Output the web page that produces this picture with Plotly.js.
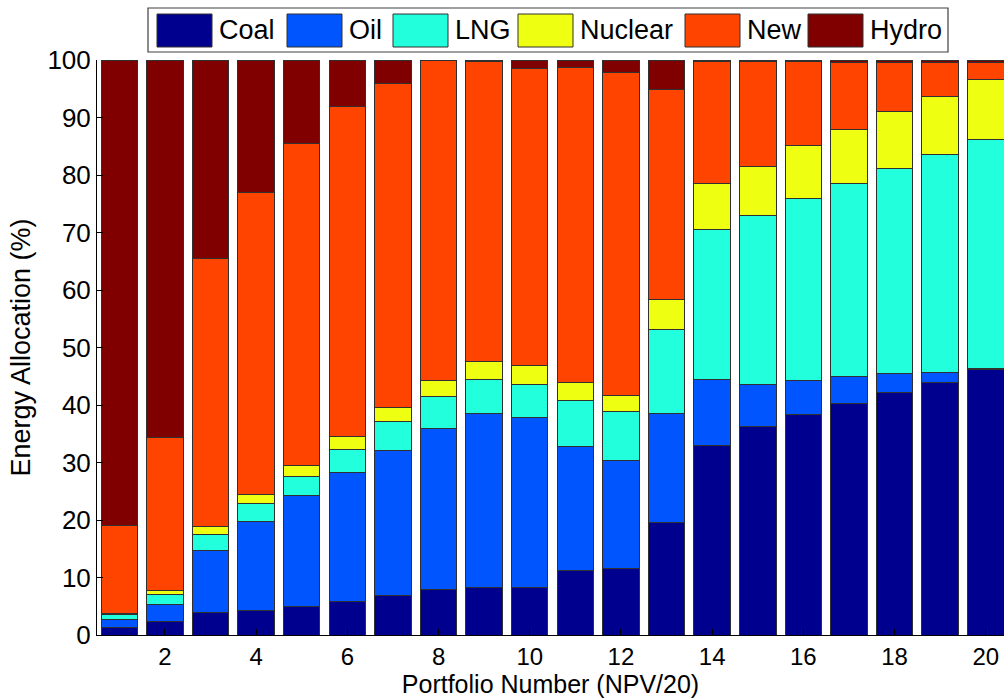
<!DOCTYPE html>
<html>
<head>
<meta charset="utf-8">
<script src="https://cdn.plot.ly/plotly-3.0.1.min.js"></script>
<style>
  html, body { margin: 0; padding: 0; background: #fff; overflow: hidden; }
  #chart { width: 1004px; height: 700px; }
</style>
</head>
<body>
<div id="chart"></div>
<script>
// Energy allocation (%) per portfolio, stacked by source
const portfolios = [1, 2, 3, 4, 5, 6, 7, 8, 9, 10, 11, 12, 13, 14, 15, 16, 17, 18, 19, 20];
const coal    = [1.3, 2.4, 4.0, 4.3, 4.9, 5.8, 6.9, 7.9, 8.2, 8.2, 11.3, 11.6, 19.5, 33.0, 36.2, 38.3, 40.3, 42.2, 43.9, 46.2];
const oil     = [1.4, 2.9, 10.7, 15.5, 19.3, 22.5, 25.2, 28.0, 30.4, 29.6, 21.4, 18.8, 19.1, 11.5, 7.4, 6.0, 4.6, 3.2, 1.8, 0.2];
const lng     = [0.9, 1.8, 2.8, 3.1, 3.4, 4.0, 5.0, 5.5, 5.8, 5.7, 8.1, 8.4, 14.5, 26.0, 29.4, 31.7, 33.6, 35.7, 37.9, 39.7];
const nuclear = [0.2, 0.7, 1.3, 1.5, 1.9, 2.2, 2.5, 2.9, 3.1, 3.3, 3.2, 2.9, 5.3, 8.0, 8.5, 9.2, 9.5, 10.0, 10.1, 10.5];
const newSrc  = [15.3, 26.6, 46.6, 52.6, 55.9, 57.4, 56.3, 55.6, 52.2, 51.7, 54.7, 56.2, 36.5, 21.2, 18.2, 14.5, 11.5, 8.4, 5.9, 3.0];
const hydro   = [80.9, 65.6, 34.6, 23.0, 14.6, 8.1, 4.1, 0.1, 0.3, 1.5, 1.3, 2.1, 5.1, 0.3, 0.3, 0.3, 0.5, 0.5, 0.4, 0.4];

const seriesNames  = ['Coal', 'Oil', 'LNG', 'Nuclear', 'New', 'Hydro'];
const seriesValues = [coal, oil, lng, nuclear, newSrc, hydro];
const seriesColors = ['#00008f', '#0055ff', '#22ffdd', '#eeff11', '#ff4400', '#800000'];

const xTickVals = [2, 4, 6, 8, 10, 12, 14, 16, 18, 20];
const yTickVals = [0, 10, 20, 30, 40, 50, 60, 70, 80, 90, 100];

const FONT = 'Liberation Sans, Arial, Helvetica, sans-serif';

// Figure geometry (pixels)
const FIG_W = 1004, FIG_H = 700;
const M = { l: 97, r: 0, t: 60, b: 65 };
const PLOT_W = FIG_W - M.l - M.r;
const PLOT_H = FIG_H - M.t - M.b;
const px2paperX = px => (px - M.l) / PLOT_W;
const px2paperY = py => (FIG_H - M.b - py) / PLOT_H;

const traces = seriesNames.map((name, i) => ({
  type: 'bar',
  name: name,
  x: portfolios,
  y: seriesValues[i],
  width: 0.8,
  marker: { color: seriesColors[i], line: { color: '#303030', width: 1 } },
  hoverinfo: 'name+y'
}));

// Legend drawn as a boxed row of large swatches above the axes
const legendBox = { x0: 148, x1: 948, y0: 8, y1: 52 };
const swatchLeft = [157, 287, 393, 518, 685, 808];
const swatchW = 55, swatchTop = 14, swatchBot = 47, labelGap = 5;

const shapes = [{
  type: 'rect', xref: 'paper', yref: 'paper',
  x0: px2paperX(legendBox.x0), x1: px2paperX(legendBox.x1),
  y0: px2paperY(legendBox.y1), y1: px2paperY(legendBox.y0),
  fillcolor: '#ffffff', line: { color: '#404040', width: 1.2 }
}];
const annotations = [];
seriesNames.forEach((name, i) => {
  shapes.push({
    type: 'rect', xref: 'paper', yref: 'paper',
    x0: px2paperX(swatchLeft[i]), x1: px2paperX(swatchLeft[i] + swatchW),
    y0: px2paperY(swatchBot), y1: px2paperY(swatchTop),
    fillcolor: seriesColors[i], line: { color: '#303030', width: 1 }
  });
  annotations.push({
    xref: 'paper', yref: 'paper',
    x: px2paperX(swatchLeft[i] + swatchW + labelGap),
    y: px2paperY((swatchTop + swatchBot) / 2),
    xanchor: 'left', yanchor: 'middle',
    text: name, showarrow: false,
    font: { family: FONT, size: 27, color: '#000' }
  });
});

const layout = {
  width: FIG_W, height: FIG_H,
  margin: M,
  paper_bgcolor: '#ffffff', plot_bgcolor: '#ffffff',
  barmode: 'stack',
  showlegend: false,
  font: { family: FONT, color: '#000' },
  xaxis: {
    range: [0.51, 20.4],
    tickmode: 'array', tickvals: xTickVals, ticktext: xTickVals.map(String),
    ticks: 'inside', ticklen: 6, tickcolor: '#000',
    showgrid: false, zeroline: false,
    showline: true, linecolor: '#000', linewidth: 1,
    tickfont: { family: FONT, size: 24, color: '#000' },
    title: { text: 'Portfolio Number (NPV/20)', font: { family: FONT, size: 25, color: '#000' }, standoff: 6 }
  },
  yaxis: {
    range: [0, 100],
    tickmode: 'array', tickvals: yTickVals, ticktext: yTickVals.map(String),
    ticks: 'inside', ticklen: 6, tickcolor: '#000',
    showgrid: false, zeroline: false,
    showline: true, linecolor: '#000', linewidth: 1,
    tickfont: { family: FONT, size: 26, color: '#000' },
    title: { text: 'Energy Allocation (%)', font: { family: FONT, size: 27, color: '#000' }, standoff: 8 }
  },
  shapes: shapes,
  annotations: annotations
};

Plotly.newPlot('chart', traces, layout, { displayModeBar: false, staticPlot: true });
</script>
</body>
</html>
